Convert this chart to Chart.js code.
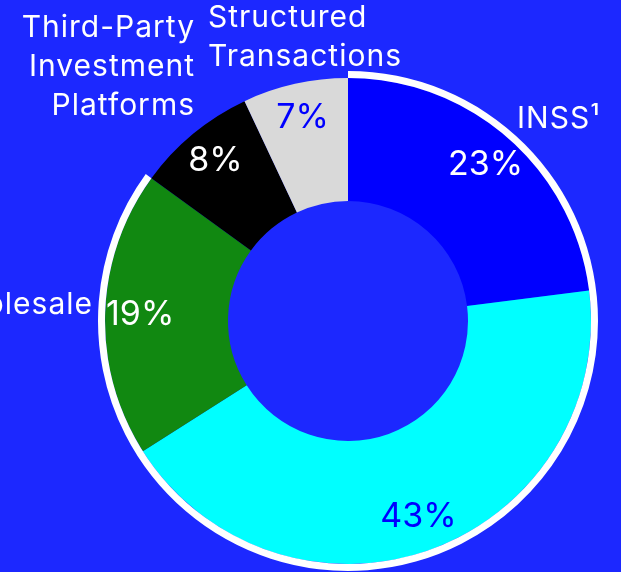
<!DOCTYPE html>
<html>
<head>
<meta charset="utf-8">
<script src="https://cdn.jsdelivr.net/npm/chart.js@4.4.1/dist/chart.umd.min.js"></script>
<style>
  html, body { margin: 0; padding: 0; background: #1c28ff; overflow: hidden; }
  #wrap { width: 621px; height: 572px; position: relative; }
</style>
</head>
<body>
<div id="wrap"><canvas id="mixChart"></canvas></div>
<script>
// revenue mix by channel, in percent
var channels = [['INSS¹'], [], ['Wholesale'], ['Third-Party', 'Investment', 'Platforms'], ['Structured', 'Transactions']];
var shares = [23, 43, 19, 8, 7];
var sliceColors = ['#0000ff', '#00ffff', '#118811', '#000000', '#d9d9d9'];
var valueColors = ['#ffffff', '#0000ff', '#ffffff', '#ffffff', '#0000ff'];
// the white outline runs round the first three channels only
var outlinedCount = 3;

var outlined = shares.slice(0, outlinedCount).reduce(function (a, b) { return a + b; }, 0);
var rest = shares.slice(outlinedCount).reduce(function (a, b) { return a + b; }, 0);

// where each channel name sits, relative to the chart centre
var nameSpots = [
    { dx: 169, dy: -202, align: 'left' },
    null,
    { dx: -255, dy: -16, align: 'right' },
    { dx: -153, dy: -293, align: 'right' },
    { dx: -140, dy: -303, align: 'left' }
];

var labelPlugin = {
    id: 'sliceLabels',
    afterDatasetsDraw: function (chart) {
        var ctx = chart.ctx;
        var meta = chart.getDatasetMeta(1);
        ctx.save();
        ctx.textBaseline = 'middle';
        meta.data.forEach(function (arc, i) {
            var p = arc.getProps(['x', 'y', 'startAngle', 'endAngle', 'innerRadius', 'outerRadius'], true);
            var mid = (p.startAngle + p.endAngle) / 2;
            var r = p.innerRadius + (p.outerRadius - p.innerRadius) * 0.715;
            ctx.font = '34px Inter';
            ctx.letterSpacing = '0px';
            ctx.textAlign = 'center';
            ctx.fillStyle = valueColors[i];
            ctx.fillText(shares[i] + '%', p.x + Math.cos(mid) * r, p.y + Math.sin(mid) * r);

            var spot = nameSpots[i];
            if (!spot) return;
            ctx.font = '30px Inter';
            ctx.letterSpacing = '1px';
            ctx.textAlign = spot.align;
            ctx.fillStyle = '#ffffff';
            channels[i].forEach(function (line, k) {
                ctx.fillText(line, p.x + spot.dx, p.y + spot.dy + k * 39);
            });
        });
        ctx.restore();
    }
};

new Chart(document.getElementById('mixChart'), {
    type: 'doughnut',
    data: {
        labels: channels.map(function (c) { return c.join(' '); }),
        datasets: [
            {
                data: [outlined, rest],
                backgroundColor: ['#ffffff', 'rgba(0,0,0,0)'],
                borderWidth: 0,
                hoverOffset: 0,
                weight: 7
            },
            {
                data: shares,
                backgroundColor: sliceColors,
                borderWidth: 0,
                hoverOffset: 0,
                weight: 123
            }
        ]
    },
    options: {
        responsive: true,
        maintainAspectRatio: false,
        animation: false,
        events: [],
        cutout: 120,
        layout: { padding: { left: 98, top: 71, right: 23, bottom: 1 } },
        plugins: {
            legend: { display: false },
            tooltip: { enabled: false }
        }
    },
    plugins: [labelPlugin]
});
</script>
</body>
</html>
